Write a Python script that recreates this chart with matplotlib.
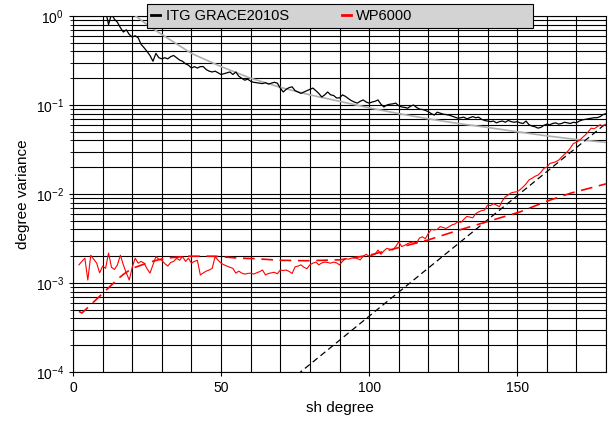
import matplotlib
matplotlib.use("Agg")
import matplotlib.pyplot as plt
import numpy as np
from matplotlib.ticker import LogLocator, MultipleLocator, NullFormatter
from matplotlib.patches import Rectangle
from matplotlib.lines import Line2D

plt.rcParams['font.family'] = ['Liberation Sans', 'DejaVu Sans']
plt.rcParams['mathtext.fontset'] = 'custom'
plt.rcParams['mathtext.rm'] = 'Liberation Sans'
plt.rcParams['mathtext.it'] = 'Liberation Sans'
plt.rcParams['mathtext.default'] = 'regular'

# ITG GRACE2010S degree variances (degree 10..180)
itg_deg = list(range(10, 181))
itg_val = [
    1.4, 1.15, 0.80, 1.05, 0.92, 0.85, 0.74, 0.66, 0.70, 0.62,
    0.58, 0.60, 0.57, 0.48, 0.44, 0.40, 0.36, 0.31, 0.38, 0.34,
    0.33, 0.34, 0.33, 0.35, 0.36, 0.34, 0.32, 0.31, 0.29, 0.28,
    0.26, 0.27, 0.26, 0.27, 0.27, 0.25, 0.24, 0.235, 0.24, 0.23,
    0.22, 0.225, 0.23, 0.235, 0.22, 0.235, 0.21, 0.20, 0.19, 0.195,
    0.185, 0.18, 0.178, 0.176, 0.174, 0.178, 0.172, 0.176, 0.18, 0.176,
    0.155, 0.14, 0.15, 0.157, 0.16, 0.145, 0.14, 0.135, 0.14, 0.145,
    0.15, 0.155, 0.145, 0.135, 0.123, 0.13, 0.14, 0.13, 0.128, 0.12,
    0.12, 0.13, 0.125, 0.118, 0.112, 0.108, 0.105, 0.11, 0.114, 0.108,
    0.105, 0.108, 0.11, 0.114, 0.102, 0.095, 0.10, 0.102, 0.103, 0.105,
    0.098, 0.095, 0.094, 0.092, 0.097, 0.10, 0.094, 0.09, 0.089, 0.087,
    0.084, 0.08, 0.077, 0.083, 0.081, 0.079, 0.078, 0.077, 0.075, 0.073,
    0.071, 0.072, 0.073, 0.07, 0.072, 0.074, 0.072, 0.073, 0.069, 0.067,
    0.066, 0.065, 0.066, 0.063, 0.065, 0.066, 0.064, 0.067, 0.065, 0.064,
    0.065, 0.063, 0.062, 0.066, 0.06, 0.058, 0.057, 0.055, 0.056, 0.059,
    0.061, 0.06, 0.062, 0.063, 0.061, 0.062, 0.064, 0.063, 0.062, 0.064,
    0.063, 0.066, 0.068, 0.069, 0.07, 0.071, 0.072, 0.072, 0.074, 0.078,
    0.08,
]

# WP6000 degree variances (degree 2..180)
wp_deg = list(range(2, 181))
wp_val = [
    1.6e-3, 1.75e-3, 1.9e-3, 1.08e-3, 2.05e-3, 1.85e-3, 1.67e-3, 1.3e-3, 1.55e-3,
    1.46e-3, 2.17e-3, 1.5e-3, 1.42e-3, 1.6e-3, 2.05e-3, 1.6e-3, 1.3e-3, 1.08e-3,
    1.5e-3, 1.9e-3, 1.67e-3, 1.75e-3, 1.67e-3, 1.45e-3, 1.29e-3, 1.6e-3, 1.98e-3,
    1.85e-3, 1.8e-3, 1.65e-3, 1.55e-3, 1.7e-3, 1.75e-3, 1.9e-3, 1.8e-3, 1.98e-3,
    1.75e-3, 1.9e-3, 1.67e-3, 1.75e-3, 1.8e-3, 1.23e-3, 1.3e-3, 1.36e-3, 1.4e-3,
    1.46e-3, 1.98e-3, 1.8e-3, 1.67e-3, 1.6e-3, 1.55e-3, 1.5e-3, 1.46e-3, 1.29e-3,
    1.36e-3, 1.29e-3, 1.26e-3, 1.28e-3, 1.29e-3, 1.26e-3, 1.3e-3, 1.34e-3, 1.4e-3,
    1.23e-3, 1.28e-3, 1.3e-3, 1.32e-3, 1.27e-3, 1.4e-3, 1.38e-3, 1.4e-3, 1.35e-3,
    1.28e-3, 1.52e-3, 1.55e-3, 1.6e-3, 1.5e-3, 1.45e-3, 1.6e-3, 1.67e-3, 1.72e-3,
    1.6e-3, 1.68e-3, 1.72e-3, 1.7e-3, 1.67e-3, 1.72e-3, 1.68e-3, 1.6e-3, 1.75e-3,
    1.88e-3, 1.85e-3, 1.9e-3, 1.92e-3, 1.88e-3, 1.82e-3, 2.0e-3, 2.1e-3, 2.0e-3,
    2.05e-3, 2.1e-3, 2.35e-3, 2.1e-3, 2.3e-3, 2.45e-3, 2.4e-3, 2.35e-3, 2.57e-3,
    2.9e-3, 2.57e-3, 2.65e-3, 2.77e-3, 2.85e-3, 2.9e-3, 2.8e-3, 3.2e-3, 3.3e-3,
    3.15e-3, 3.6e-3, 4.0e-3, 3.95e-3, 4.0e-3, 4.3e-3, 4.2e-3, 4.1e-3, 4.3e-3,
    4.5e-3, 4.6e-3, 4.9e-3, 4.8e-3, 5.2e-3, 5.6e-3, 5.5e-3, 5.4e-3, 6.0e-3,
    6.3e-3, 6.5e-3, 6.6e-3, 7.5e-3, 7.4e-3, 7.8e-3, 7.5e-3, 7.2e-3, 8.4e-3,
    9.3e-3, 9.8e-3, 1.03e-2, 1.05e-2, 1.06e-2, 1.12e-2, 1.2e-2, 1.3e-2, 1.44e-2,
    1.5e-2, 1.58e-2, 1.63e-2, 1.75e-2, 1.94e-2, 2.0e-2, 2.2e-2, 2.25e-2, 2.3e-2,
    2.4e-2, 2.6e-2, 2.8e-2, 3.0e-2, 3.3e-2, 3.7e-2, 3.8e-2, 4.0e-2, 4.3e-2,
    4.6e-2, 5.0e-2, 5.5e-2, 5.4e-2, 5.7e-2, 6.0e-2, 5.8e-2, 6.1e-2,
]

# WP6000 smooth model (red dashed)
wpm_deg = [2, 3, 5, 8, 11, 15, 17, 20, 26, 31, 39, 48, 56, 61, 70, 79, 90,
           100, 110, 120, 130, 140, 151, 160, 168, 180]
wpm_val = [4.8e-4, 4.6e-4, 5.3e-4, 6.6e-4, 8.2e-4, 1.1e-3, 1.25e-3, 1.46e-3,
           1.72e-3, 1.9e-3, 2.0e-3, 2.0e-3, 1.9e-3, 1.88e-3, 1.8e-3, 1.78e-3,
           1.82e-3, 2.05e-3, 2.5e-3, 3.05e-3, 3.9e-3, 4.9e-3, 6.3e-3, 8.3e-3,
           1.02e-2, 1.3e-2]

# Kaula-type signal curve (gray)
kaula_deg = [18, 20, 25, 30, 40, 50, 60, 70, 80, 90, 100, 110, 120, 130,
             140, 150, 160, 170, 180]
kaula_val = [1.25, 1.07, 0.80, 0.62, 0.38, 0.27, 0.20, 0.158, 0.13, 0.11,
             0.093, 0.08, 0.07, 0.062, 0.056, 0.05, 0.045, 0.041, 0.038]

# GRACE error trend (black dashed)
err_deg = [60, 180]
err_val = [3.5e-5, 0.062]

W, H = 612, 423
fig = plt.figure(figsize=(W / 100, H / 100), dpi=100)
ax = fig.add_axes([73 / W, 1 - 372 / H, 533 / W, 356 / H])

ax.plot(kaula_deg, kaula_val, color='#b0b0b0', lw=1.2, zorder=3)
ax.plot(err_deg, err_val, color='black', lw=0.9, ls=(0, (5, 3)), zorder=3)
ax.plot(wpm_deg, wpm_val, color='red', lw=1.2, ls=(0, (7, 4)), zorder=3)
ax.plot(itg_deg, itg_val, color='black', lw=0.9, zorder=4)
ax.plot(wp_deg, wp_val, color='red', lw=0.8, zorder=4)

ax.set_yscale('log')
ax.set_xlim(0, 180)
ax.set_ylim(1e-4, 1)
ax.xaxis.set_major_locator(MultipleLocator(50))
ax.xaxis.set_minor_locator(MultipleLocator(10))
ax.yaxis.set_major_locator(LogLocator(base=10, numticks=10))
ax.yaxis.set_minor_locator(LogLocator(base=10, subs=np.arange(2, 10), numticks=20))
ax.yaxis.set_minor_formatter(NullFormatter())

ax.grid(True, which='both', axis='both', color='black', lw=0.8, zorder=1)
ax.tick_params(which='both', direction='out', labelsize=10, color='black')
ax.tick_params(which='major', length=3)
ax.tick_params(which='minor', length=2)
ax.tick_params(axis='x', which='minor', length=0)
for s in ax.spines.values():
    s.set_linewidth(0.8)

ax.set_xlabel('sh degree', fontsize=11)
ax.set_ylabel('degree variance', fontsize=11)

# legend box
rect = Rectangle((147 / W, 1 - 28 / H), (533 - 147) / W, 24 / H,
                 transform=fig.transFigure, facecolor='#d3d3d3',
                 edgecolor='black', lw=0.8, zorder=9)
fig.patches.append(rect)
h1 = Line2D([], [], color='black', lw=2)
h2 = Line2D([], [], color='red', lw=2)
leg = fig.legend([h1, h2], ['ITG GRACE2010S', 'WP6000'], ncol=2,
                 loc='center left', bbox_to_anchor=(151 / W, 1 - 16 / H),
                 fontsize=10.5, frameon=False, handlelength=0.62,
                 handletextpad=0.4, columnspacing=3.6, borderpad=0,
                 borderaxespad=0)
leg.set_zorder(10)

fig.savefig('out.png', dpi=100)
